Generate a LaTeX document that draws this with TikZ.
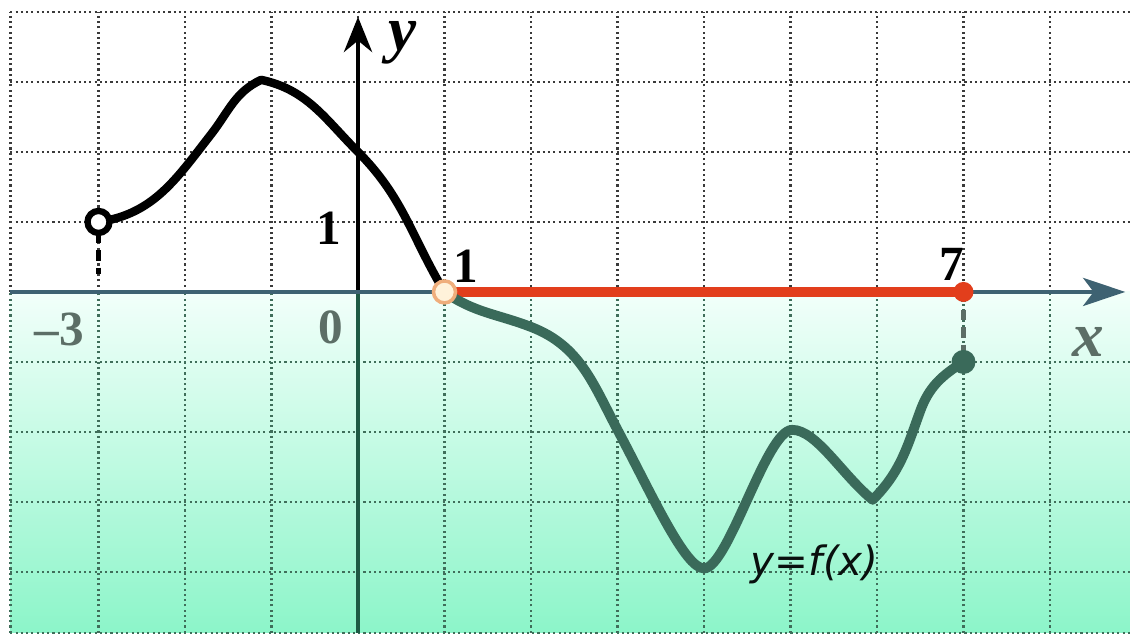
\documentclass[tikz,border=0pt]{standalone}
\usepackage{fontspec}
\setmainfont{Liberation Serif}
\newfontfamily\dejavu{DejaVu Sans}
\usetikzlibrary{arrows.meta}
\definecolor{gridup}{HTML}{3A3A3A}
\definecolor{griddn}{HTML}{3F6E5A}
\definecolor{mintTop}{HTML}{F2FFFA}
\definecolor{mintBot}{HTML}{8CF5C9}
\definecolor{curvegreen}{HTML}{3A6A5A}
\definecolor{redseg}{HTML}{E23E1C}
\definecolor{xaxisc}{HTML}{3E6272}
\definecolor{yaxisdn}{HTML}{1E5A44}
\definecolor{graylbl}{HTML}{5C6E66}
\definecolor{openfill}{HTML}{FFF2DA}
\definecolor{openrim}{HTML}{EFAE7C}
\begin{document}
\begin{tikzpicture}[x=0.865cm,y=0.7cm,
  gridU/.style={gridup, line width=0.7pt, dash pattern=on 0.6pt off 0.9pt},
  gridD/.style={griddn, line width=0.7pt, dash pattern=on 0.6pt off 0.9pt},
  lbl/.style={inner sep=0pt, font=\fontsize{14}{16}\selectfont\bfseries},
  axlbl/.style={inner sep=0pt, font=\fontsize{18}{20}\selectfont\bfseries\itshape},
  blackcurve/.style={black, line width=2.4pt, line cap=round, line join=round},
  greencurve/.style={curvegreen, line width=2.8pt, line cap=round, line join=round}]
\useasboundingbox (-4.139,-4.943) rectangle (8.925,4.171);
\fill[white] (-4.139,-4.943) rectangle (8.925,4.171);
\shade[top color=mintTop, bottom color=mintBot] (-4.02,-4.87) rectangle (8.925,0);
% grid
\foreach \i in {-3,...,8} {
  \draw[gridU] (\i,0) -- (\i,4);
  \draw[gridD] (\i,-4.87) -- (\i,0);
}
\foreach \j in {1,2,3,4} \draw[gridU] (-4.02,\j) -- (8.925,\j);
\foreach \j in {-1,-2,-3,-4,-4.87} \draw[gridD] (-4.02,\j) -- (8.925,\j);
\draw[gridU] (-4.02,0) -- (-4.02,4);
\draw[gridD] (-4.02,-4.87) -- (-4.02,0);
% coordinates
\coordinate (O) at (0,0);
\coordinate (xl) at (-4.02,0);
\coordinate (xr) at (8.87,0);
\coordinate (yb) at (0,-4.87);
\coordinate (yt) at (0,3.93);
\coordinate (A) at (-3,1);
\coordinate (B) at (1,0);
\coordinate (C) at (7,0);
\coordinate (D) at (7,-1);
\coordinate (Ad) at (-3,0.85);
\coordinate (Ae) at (-3,0.25);
% curve waypoints
\coordinate (k1) at (-1.7,2.25);
\coordinate (k2) at (-1.12,3.03);
\coordinate (k3) at (0,2);
\coordinate (g1) at (2,-0.5);
\coordinate (g2) at (3,-1.97);
\coordinate (g3) at (4,-3.95);
\coordinate (g4) at (5.02,-1.97);
\coordinate (g5) at (5.95,-2.97);
\coordinate (g6) at (6.5,-1.7);
% guide dashes
\draw[black, line width=1.3pt, dash pattern=on 3pt off 2pt] (Ad) -- (Ae);
\draw[graylbl, line width=1.3pt, dash pattern=on 3pt off 2pt] (C) -- (D);
% axes
\draw[yaxisdn, line width=1.3pt] (yb) -- (O);
\draw[black, line width=1.3pt, -{Stealth[length=10pt,width=8pt]}] (O) -- (yt);
\draw[xaxisc, line width=1.1pt, -{Stealth[length=12pt,width=8pt,inset=3pt]}] (xl) -- (xr);
% red segment
\draw[redseg, line width=3pt] (B) -- (C);
% black curve
\draw[blackcurve] (A) to[out=8,in=-128] (k1) to[out=52,in=205] (k2)
  to[out=-12,in=135] (k3) to[out=-45,in=121] (B);
% green curve
\draw[greencurve] (B) to[out=-35,in=159] (g1) to[out=-21,in=118] (g2)
  .. controls (3.4,-2.9) and (3.78,-3.95) .. (g3)
  .. controls (4.28,-3.95) and (4.72,-1.97) .. (g4)
  .. controls (5.3,-1.97) and (5.6,-2.62) .. (g5)
  to[out=45,in=-110] (g6) to[out=70,in=212] (D);
% points
\node[circle, draw=black, fill=white, line width=1.8pt, minimum size=0.22cm, inner sep=0pt] (pA) at (A) {};
\node[circle, draw=openrim, fill=openfill, line width=1pt, minimum size=0.22cm, inner sep=0pt] (pB) at (B) {};
\node[circle, fill=redseg, minimum size=0.2cm, inner sep=0pt] (pC) at (C) {};
\node[circle, fill=curvegreen, minimum size=0.24cm, inner sep=0pt] (pD) at (D) {};
% labels
\node[axlbl] (ly) at (0.52,3.56) {y};
\node[axlbl, text=graylbl] (lx) at (8.44,-0.71) {x};
\node[lbl, text=graylbl] (lm3) at (-3.45,-0.53) {–3};
\node[lbl, text=graylbl] (l0) at (-0.32,-0.5) {0};
\node[lbl] (l1y) at (-0.335,0.91) {1};
\node[lbl] (l1x) at (1.25,0.37) {1};
\node[lbl] (l7) at (6.87,0.4) {7};
\node[inner sep=0pt, font=\fontsize{11.5}{13}\selectfont\dejavu\itshape, text=black!85!curvegreen] (lf) at (5.28,-3.89) {y=f(x)};
\end{tikzpicture}
\end{document}
